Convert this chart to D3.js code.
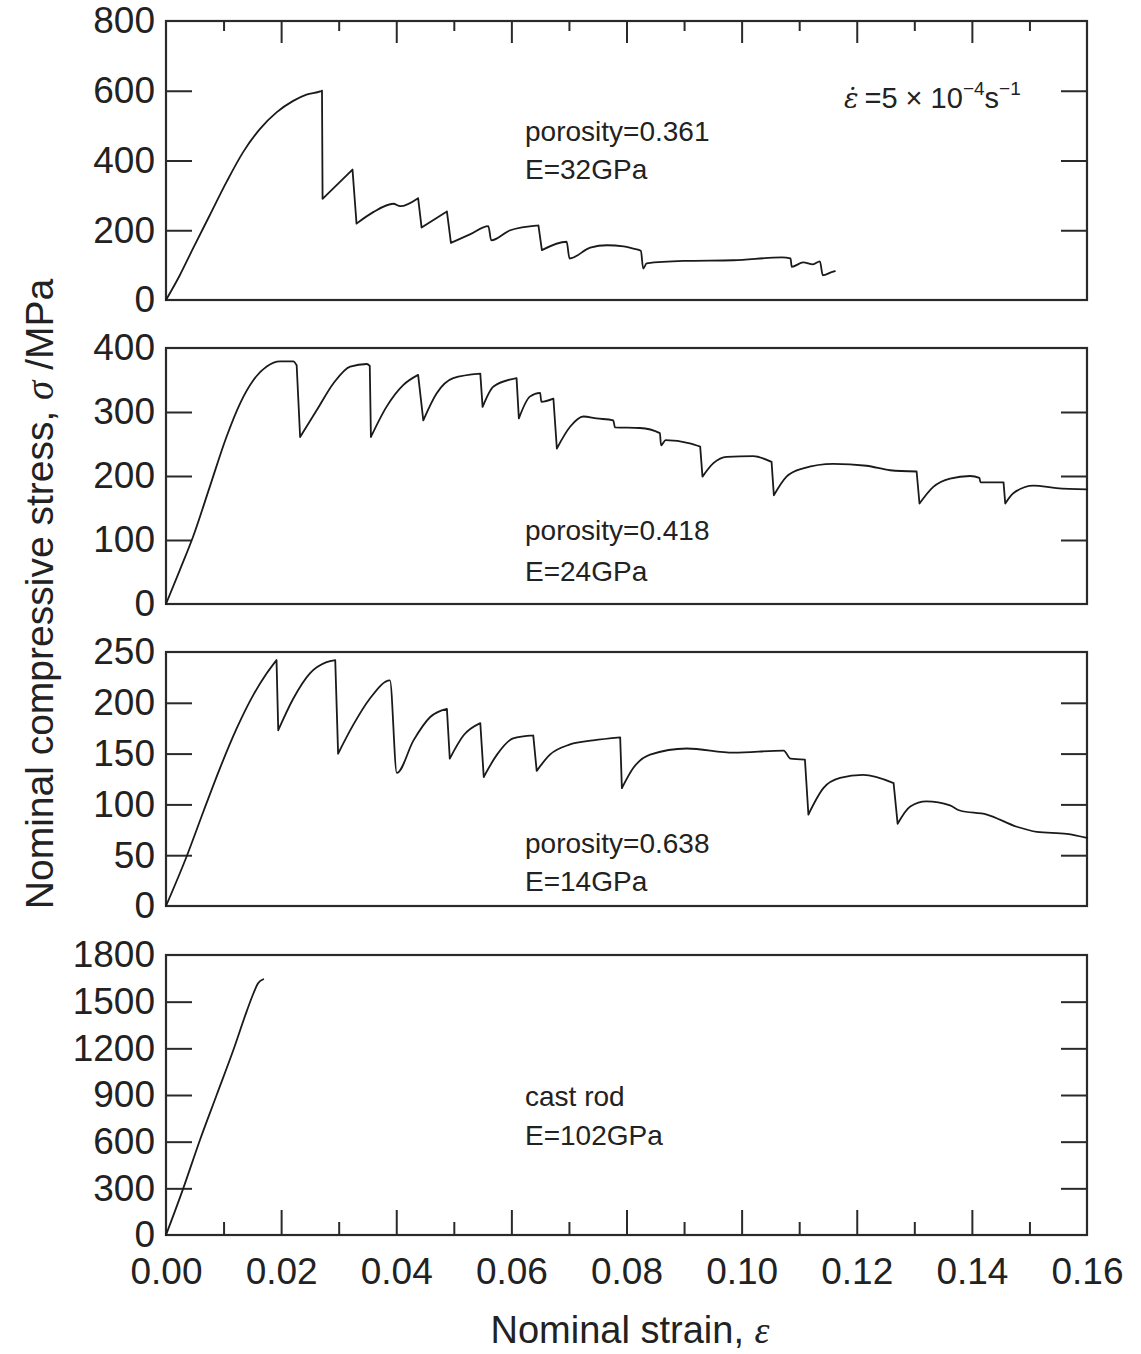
<!DOCTYPE html>
<html><head><meta charset="utf-8">
<script src="https://cdn.jsdelivr.net/npm/d3@7"></script>
<style>
html,body{margin:0;padding:0;background:#fff;}
svg text{font-family:"Liberation Sans",Arial,Helvetica,sans-serif;fill:#222;}
</style></head>
<body>
<svg id="chart" width="1141" height="1354"></svg>
<script>
// ---------- data ----------
const strain1 = [0,0.0024,0.0047,0.0076,0.0105,0.0134,0.0163,0.0192,0.0221,0.0244,0.0268,0.0271,0.0272,0.0324,0.0331,0.036,0.0395,0.0407,0.0438,0.0444,0.0488,0.0495,0.0528,0.056,0.0565,0.0598,0.0647,0.0653,0.0696,0.0701,0.0737,0.0766,0.0795,0.0812,0.0825,0.0829,0.0835,0.0899,0.0986,0.107,0.1085,0.1087,0.1107,0.1124,0.1136,0.1141,0.1155,0.1162];
const stress1 = [0,71,148,243,338,424,490,538,571,589,598,600,290,374,219,252,276,269,292,208,254,164,188,212,171,200,214,143,167,119,150,157,154,147,141,90,105,112,114,122,119,95,108,102,111,71,79,83];

const strain2 = [0,0.0024,0.0047,0.0076,0.0105,0.0129,0.0152,0.0175,0.0198,0.0221,0.0227,0.0233,0.0262,0.0291,0.032,0.0349,0.0354,0.0356,0.0383,0.0412,0.0438,0.0447,0.047,0.0499,0.0546,0.055,0.0569,0.0609,0.0613,0.0632,0.065,0.0652,0.0673,0.0679,0.0702,0.0725,0.0748,0.0777,0.078,0.0823,0.0858,0.086,0.0868,0.091,0.0928,0.0932,0.0951,0.0974,0.102,0.1052,0.1056,0.1078,0.1107,0.1159,0.1217,0.1258,0.1304,0.1309,0.1333,0.1362,0.1397,0.1413,0.1415,0.1455,0.1458,0.1472,0.1507,0.1547,0.16];
const stress2 = [0,53,105,183,261,314,350,371,379,379,373,261,303,345,371,375,372,261,308,342,358,287,329,353,360,308,340,353,290,324,330,316,321,243,277,293,290,287,276,275,267,248,256,251,246,199,220,230,231,222,170,199,212,219,216,209,207,157,183,196,200,197,190,190,157,173,185,181,179];

const strain3 = [0,0.0036,0.0065,0.0094,0.0123,0.0152,0.0175,0.0192,0.0195,0.0221,0.025,0.0279,0.0294,0.0299,0.0325,0.0354,0.0389,0.0401,0.043,0.0459,0.0488,0.0493,0.0517,0.0546,0.0552,0.0575,0.0603,0.0638,0.0644,0.0667,0.0702,0.0742,0.0789,0.0792,0.0812,0.0841,0.0905,0.0986,0.1073,0.1085,0.111,0.1116,0.1142,0.1171,0.1211,0.1264,0.1271,0.1293,0.1321,0.1362,0.1379,0.1426,0.1478,0.1513,0.1565,0.16];
const stress3 = [0,49,93,136,175,208,229,242,173,204,229,240,242,150,178,204,222,131,163,186,194,145,168,180,127,149,165,168,133,149,159,163,166,116,136,149,155,151,153,145,144,90,116,126,129,121,81,98,103,99,94,90,78,73,71,67];

const strain4 = [0,0.003,0.0059,0.0088,0.0117,0.014,0.0152,0.016,0.0169];
const stress4 = [0,300,611,900,1189,1436,1554,1618,1644];

const yLabels1 = [0,200,400,600,800];
const yLabels2 = [0,100,200,300,400];
const yLabels3 = [0,50,100,150,200,250];
const yLabels4 = [0,300,600,900,1200,1500,1800];
const xMajor = [0,0.02,0.04,0.06,0.08,0.10,0.12,0.14,0.16];
const xMinor = [0.01,0.03,0.05,0.07,0.09,0.11,0.13,0.15];
const notes = [["porosity=0.361","E=32GPa"],["porosity=0.418","E=24GPa"],["porosity=0.638","E=14GPa"],["cast rod","E=102GPa"]];

// ---------- layout ----------
const svg = d3.select("#chart");
const L = 166, R = 1087;
const x = d3.scaleLinear().domain([0,0.16]).range([L,R]);
const panels = [
  {top:21, bottom:300, labels:yLabels1, xs:strain1, ys:stress1, noteY:[141,179]},
  {top:348, bottom:604, labels:yLabels2, xs:strain2, ys:stress2, noteY:[540,581]},
  {top:652, bottom:906, labels:yLabels3, xs:strain3, ys:stress3, noteY:[853,891]},
  {top:955, bottom:1235, labels:yLabels4, xs:strain4, ys:stress4, noteY:[1106,1145]}
];
const stroke = "#2a2a2a";
const fontTick = 37;

panels.forEach((p,i)=>{
  const lab = p.labels;
  const ymax = lab[lab.length-1];
  const y = d3.scaleLinear().domain([0, ymax]).range([p.bottom, p.top]);
  const inner = lab.slice(1,-1);
  const g = svg.append("g");

  const la = g.append("g").attr("transform",`translate(${L},0)`)
    .call(d3.axisLeft(y).tickValues(lab).tickSize(0).tickPadding(11).tickFormat(d3.format("d")));
  la.select(".domain").remove();
  la.selectAll("text").attr("font-size",fontTick).style("font-family","Liberation Sans, Arial, sans-serif").attr("fill","#222");
  const lt = g.append("g").attr("transform",`translate(${L},0)`)
    .call(d3.axisLeft(y).tickValues(inner).tickSize(-26).tickFormat(""));
  lt.select(".domain").remove();
  lt.selectAll("line").attr("stroke",stroke).attr("stroke-width",2);

  const rt = g.append("g").attr("transform",`translate(${R},0)`)
    .call(d3.axisRight(y).tickValues(inner).tickSize(-26).tickFormat(""));
  rt.select(".domain").remove();
  rt.selectAll("line").attr("stroke",stroke).attr("stroke-width",2);

  if(i===0){
    const tM = g.append("g").attr("transform",`translate(0,${p.top})`)
      .call(d3.axisTop(x).tickValues(xMajor.slice(1,-1)).tickSize(-22).tickFormat(""));
    const tm = g.append("g").attr("transform",`translate(0,${p.top})`)
      .call(d3.axisTop(x).tickValues(xMinor).tickSize(-10).tickFormat(""));
    [tM,tm].forEach(a=>{a.select(".domain").remove();a.selectAll("line").attr("stroke",stroke).attr("stroke-width",2);});
  }
  if(i===3){
    const bM = g.append("g").attr("transform",`translate(0,${p.bottom})`)
      .call(d3.axisBottom(x).tickValues(xMajor.slice(1,-1)).tickSize(-25).tickFormat(""));
    const bm = g.append("g").attr("transform",`translate(0,${p.bottom})`)
      .call(d3.axisBottom(x).tickValues(xMinor).tickSize(-13).tickFormat(""));
    [bM,bm].forEach(a=>{a.select(".domain").remove();a.selectAll("line").attr("stroke",stroke).attr("stroke-width",2);});
    const bl = g.append("g").attr("transform",`translate(0,${p.bottom})`)
      .call(d3.axisBottom(x).tickValues(xMajor).tickSize(0).tickPadding(23).tickFormat(d3.format(".2f")));
    bl.select(".domain").remove();
    bl.selectAll("text").attr("font-size",fontTick).style("font-family","Liberation Sans, Arial, sans-serif").attr("fill","#222");
  }

  g.append("rect").attr("x",L).attr("y",p.top).attr("width",R-L).attr("height",p.bottom-p.top)
    .attr("fill","none").attr("stroke",stroke).attr("stroke-width",2.2);

  // curve: smooth loading branches, straight load drops
  const pts = p.xs.map((v,k)=>[v,p.ys[k]]);
  const segs = [[pts[0]]];
  const drops = [];
  for(let k=1;k<pts.length;k++){
    const dx = pts[k][0]-pts[k-1][0], dy = pts[k][1]-pts[k-1][1];
    if(dx < 0.0009 && dy < -0.08*ymax){
      drops.push([pts[k-1],pts[k]]);
      segs.push([pts[k]]);
    } else segs[segs.length-1].push(pts[k]);
  }
  const smooth = d3.line().x(d=>x(d[0])).y(d=>y(d[1])).curve(d3.curveMonotoneX);
  const straight = d3.line().x(d=>x(d[0])).y(d=>y(d[1]));
  const dStr = segs.map(s=>smooth(s)).join("") + drops.map(s=>straight(s)).join("");
  g.append("path").attr("d", dStr)
    .attr("fill","none").attr("stroke","#1a1a1a").attr("stroke-width",1.8)
    .attr("stroke-linejoin","round").attr("stroke-linecap","round");

  notes[i].forEach((t,k)=>{
    g.append("text").attr("x",525).attr("y",p.noteY[k]).attr("font-size",28).text(t);
  });
});

// strain-rate note
const rt = svg.append("text").attr("x",844).attr("y",108).attr("font-size",29);
rt.append("tspan").style("font-family","DejaVu Serif, serif").attr("font-style","italic").attr("font-size",27).text("\u03B5\u0307");
rt.append("tspan").attr("dx",6).text("=5 × 10");
rt.append("tspan").attr("font-size",19).attr("dy",-13).text("−4");
rt.append("tspan").attr("dy",13).text("s");
rt.append("tspan").attr("font-size",19).attr("dy",-13).text("−1");

// axis titles
const yt = svg.append("text").attr("transform","translate(53,594) rotate(-90)")
  .attr("text-anchor","middle").attr("font-size",39);
yt.append("tspan").text("Nominal compressive stress, ");
yt.append("tspan").style("font-family","Liberation Serif, serif").attr("font-style","italic").text("σ");
yt.append("tspan").text(" /MPa");

const xt = svg.append("text").attr("x",630).attr("y",1343).attr("text-anchor","middle").attr("font-size",38);
xt.append("tspan").text("Nominal strain, ");
xt.append("tspan").style("font-family","Liberation Serif, serif").attr("font-style","italic").text("ε");
</script>
</body></html>
